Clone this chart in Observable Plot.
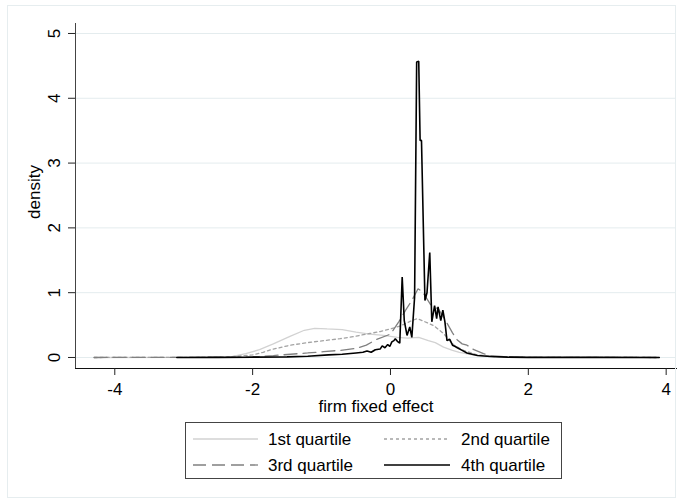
<!DOCTYPE html>
<html>
<head>
<meta charset="utf-8">
<script src="https://cdn.jsdelivr.net/npm/d3@7"></script>
<script src="https://cdn.jsdelivr.net/npm/@observablehq/plot@0.6"></script>
<style>
  html, body { margin: 0; padding: 0; background: #fff; }
  body { width: 682px; height: 504px; position: relative; overflow: hidden; font-family: "Liberation Sans", Arial, sans-serif; }
  #frame { position: absolute; left: 7px; top: 5px; width: 667px; height: 491px; border: 1px solid #e6edef; pointer-events: none; }
  #chart { position: absolute; left: 0; top: 0; }
  #legend { position: absolute; left: 185px; top: 422px; }
</style>
</head>
<body>
<div id="chart"></div>
<div id="legend"></div>
<div id="frame"></div>
<script>
// ---- data ----
const xTicks = [-4, -2, 0, 2, 4];
const yTicks = [0, 1, 2, 3, 4, 5];
const seriesNames = ["1st quartile", "2nd quartile", "3rd quartile", "4th quartile"];

const q1 = [[-4.3,0],[-3.0,0.002],[-2.5,0.005],[-2.32,0.01],[-2.1,0.06],[-1.9,0.12],[-1.7,0.21],[-1.45,0.33],
  [-1.25,0.42],[-1.1,0.45],[-0.92,0.44],[-0.7,0.43],[-0.5,0.39],[-0.3,0.36],[-0.1,0.34],[0.1,0.31],[0.25,0.30],
  [0.41,0.31],[0.55,0.26],[0.65,0.23],[0.77,0.16],[0.9,0.11],[1.0,0.08],[1.15,0.05],[1.3,0.03],[1.6,0.01],
  [2.0,0.003],[3.0,0.001],[3.9,0]];

const q2 = [[-4.3,0],[-3.0,0.002],[-2.5,0.005],[-2.25,0.015],[-2.0,0.04],[-1.85,0.08],[-1.7,0.13],[-1.45,0.19],
  [-1.2,0.23],[-0.97,0.26],[-0.73,0.29],[-0.5,0.33],[-0.3,0.37],[-0.15,0.40],[0,0.44],[0.15,0.49],[0.29,0.56],
  [0.39,0.60],[0.48,0.56],[0.63,0.49],[0.77,0.37],[0.92,0.19],[1.06,0.11],[1.26,0.04],[1.5,0.015],[2.0,0.003],
  [3.0,0.001],[3.9,0]];

const q3 = [[-4.3,0],[-3.0,0.002],[-2.2,0.005],[-1.9,0.015],[-1.7,0.03],[-1.45,0.05],[-1.2,0.07],[-0.97,0.09],
  [-0.73,0.11],[-0.5,0.14],[-0.35,0.19],[-0.2,0.28],[0,0.36],[0.12,0.55],[0.22,0.73],[0.31,0.88],[0.40,1.06],
  [0.46,1.02],[0.58,0.82],[0.70,0.74],[0.80,0.57],[0.90,0.38],[0.97,0.27],[1.04,0.21],[1.11,0.19],[1.21,0.12],
  [1.35,0.06],[1.45,0.03],[1.7,0.01],[2.0,0.003],[3.0,0.001],[3.9,0]];

const q4 = [[-3.1,0],[-2.5,0.002],[-2.0,0.005],[-1.5,0.01],[-1.2,0.02],[-0.9,0.04],[-0.7,0.05],[-0.5,0.07],
  [-0.4,0.08],[-0.34,0.10],[-0.28,0.08],[-0.22,0.12],[-0.15,0.13],[-0.12,0.18],[-0.08,0.15],[-0.04,0.20],
  [-0.01,0.17],[0.02,0.24],[0.05,0.26],[0.07,0.29],[0.10,0.25],[0.135,0.22],[0.17,1.24],[0.20,0.57],[0.24,0.34],
  [0.28,0.47],[0.31,0.31],[0.35,0.93],[0.38,4.56],[0.41,4.57],[0.43,3.35],[0.45,3.35],[0.50,0.88],[0.53,1.0],
  [0.57,1.62],[0.60,0.55],[0.64,0.80],[0.67,0.60],[0.69,0.78],[0.73,0.57],[0.76,0.73],[0.79,0.55],[0.82,0.26],
  [0.86,0.28],[0.90,0.19],[0.94,0.17],[0.97,0.15],[1.04,0.11],[1.11,0.07],[1.26,0.03],[1.45,0.015],[1.7,0.005],
  [2.0,0.002],[3.0,0.001],[3.9,0]];

// ---- styles ----
const styles = [
  {stroke: "#d2d2d2", strokeWidth: 1.3, dash: null},
  {stroke: "#a3a3a3", strokeWidth: 1.3, dash: "3,3"},
  {stroke: "#808080", strokeWidth: 1.3, dash: "13,6"},
  {stroke: "#000000", strokeWidth: 1.6, dash: null}
];
const series = [q1, q2, q3, q4];
const FONT = "'Liberation Sans', Arial, Helvetica, sans-serif";

const chart = Plot.plot({
  width: 682,
  height: 418,
  marginLeft: 75,
  marginRight: 6,
  marginTop: 23,
  marginBottom: 50,
  style: {fontFamily: FONT, fontSize: "17px", background: "transparent", color: "#000", overflow: "visible"},
  x: {domain: [-4.57, 4.15]},
  y: {domain: [-0.17, 5.154]},
  marks: [
    Plot.gridY(yTicks, {stroke: "#e4ecee", strokeOpacity: 1, strokeWidth: 1}),
    ...series.map((s, i) => Plot.line(s, {
      x: d => d[0], y: d => d[1],
      stroke: styles[i].stroke, strokeWidth: styles[i].strokeWidth,
      strokeDasharray: styles[i].dash, strokeLinejoin: "miter", curve: "linear"
    })),
    Plot.frame({anchor: "left", stroke: "#444", strokeWidth: 1}),
    Plot.frame({anchor: "bottom", stroke: "#111", strokeWidth: 1}),
    Plot.axisX(xTicks, {tickSize: 7, tickPadding: 7, fontSize: 17, label: null, stroke: "#222", tickFormat: d => d < 0 ? "-" + Math.abs(d) : String(d)}),
    Plot.axisY(yTicks, {tickSize: 7, tickFormat: () => "", label: null, stroke: "#222"}),
    Plot.text(yTicks, {y: d => d, text: d => String(d), frameAnchor: "left", rotate: -90, dx: -21,
      lineAnchor: "middle", textAnchor: "middle", fontSize: 17, fill: "#000"}),
    Plot.text(["firm fixed effect"], {frameAnchor: "bottom", dy: 38, lineAnchor: "middle", textAnchor: "middle", fontSize: 17, fill: "#000"}),
    Plot.text(["density"], {frameAnchor: "left", rotate: -90, dx: -41, dy: -4, lineAnchor: "middle", textAnchor: "middle", fontSize: 17, fill: "#000"})
  ]
});
document.getElementById("chart").appendChild(chart);

// ---- legend (HTML/SVG below the plot) ----
const LW = 377, LH = 57;
const ns = "http://www.w3.org/2000/svg";
const lsvg = document.createElementNS(ns, "svg");
lsvg.setAttribute("width", LW); lsvg.setAttribute("height", LH);
lsvg.style.display = "block";
const box = document.createElementNS(ns, "rect");
box.setAttribute("x", 0.5); box.setAttribute("y", 0.5);
box.setAttribute("width", LW - 1); box.setAttribute("height", LH - 1);
box.setAttribute("fill", "#fff"); box.setAttribute("stroke", "#444");
lsvg.appendChild(box);
const cols = [{lx1: 8, lx2: 73, tx: 83}, {lx1: 199, lx2: 265, tx: 276}];
const rows = [17, 43];
seriesNames.forEach((name, i) => {
  const c = cols[i % 2], r = rows[Math.floor(i / 2)];
  const ln = document.createElementNS(ns, "line");
  ln.setAttribute("x1", c.lx1); ln.setAttribute("x2", c.lx2);
  ln.setAttribute("y1", r); ln.setAttribute("y2", r);
  ln.setAttribute("stroke", styles[i].stroke);
  ln.setAttribute("stroke-width", styles[i].strokeWidth);
  if (styles[i].dash) ln.setAttribute("stroke-dasharray", styles[i].dash);
  lsvg.appendChild(ln);
  const t = document.createElementNS(ns, "text");
  t.setAttribute("x", c.tx); t.setAttribute("y", r);
  t.setAttribute("dy", "0.35em");
  t.setAttribute("font-family", FONT);
  t.setAttribute("font-size", "17");
  t.textContent = name;
  lsvg.appendChild(t);
});
document.getElementById("legend").appendChild(lsvg);
</script>
</body>
</html>
